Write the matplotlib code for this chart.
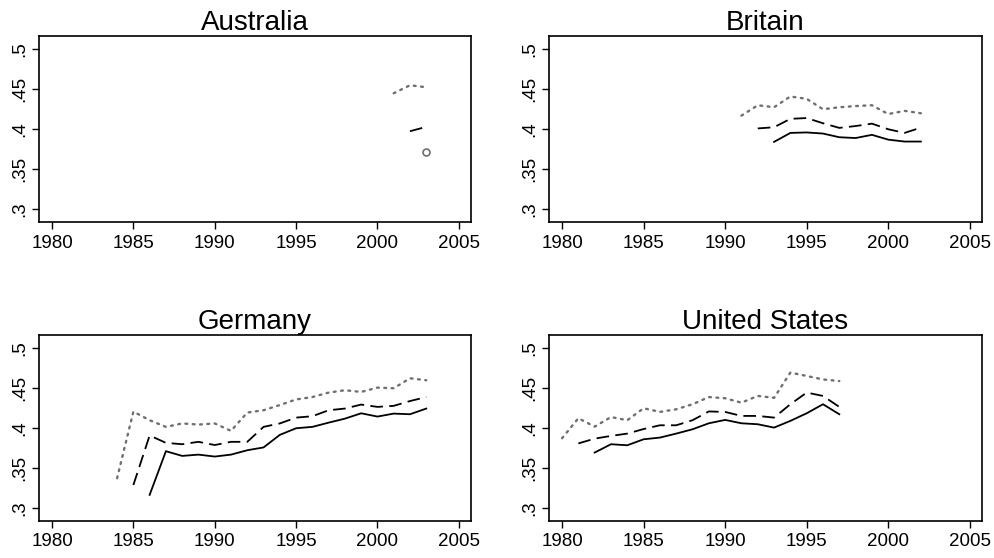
import matplotlib.pyplot as plt

plt.rcParams['font.family'] = ['Liberation Sans', 'DejaVu Sans']

# years and values
aus_dot_x = [2001, 2002, 2003]
aus_dot_y = [0.445, 0.455, 0.4525]
aus_dash_x = [2002, 2003]
aus_dash_y = [0.3975, 0.403]
aus_solid_x = [2003]
aus_solid_y = [0.371]

gbr_dot_x = list(range(1991, 2003))
gbr_dot_y = [0.417, 0.430, 0.4275, 0.441, 0.438, 0.425, 0.4275, 0.429, 0.430, 0.419, 0.423, 0.420]
gbr_dash_x = list(range(1992, 2003))
gbr_dash_y = [0.401, 0.4025, 0.413, 0.414, 0.4075, 0.4017, 0.404, 0.407, 0.400, 0.3954, 0.402]
gbr_solid_x = list(range(1993, 2003))
gbr_solid_y = [0.3842, 0.3954, 0.396, 0.3946, 0.390, 0.389, 0.393, 0.387, 0.3846, 0.3846]

ger_dot_x = list(range(1984, 2004))
ger_dot_y = [0.3375, 0.4208, 0.410, 0.4017, 0.406, 0.4046, 0.406, 0.3967, 0.4196, 0.4225,
             0.429, 0.436, 0.439, 0.4446, 0.4475, 0.4454, 0.4508, 0.450, 0.4625, 0.460]
ger_dash_x = list(range(1985, 2004))
ger_dash_y = [0.329, 0.391, 0.3817, 0.380, 0.383, 0.379, 0.383, 0.383, 0.4017, 0.406,
              0.4133, 0.415, 0.4225, 0.4246, 0.4296, 0.4267, 0.428, 0.434, 0.439]
ger_solid_x = list(range(1986, 2004))
ger_solid_y = [0.3167, 0.3713, 0.3654, 0.367, 0.3646, 0.367, 0.3725, 0.376, 0.3917, 0.400,
               0.4017, 0.407, 0.412, 0.4187, 0.4146, 0.4183, 0.4175, 0.4246]

usa_dot_x = list(range(1980, 1998))
usa_dot_y = [0.3875, 0.4125, 0.402, 0.414, 0.410, 0.425, 0.4204, 0.4237, 0.430, 0.439,
             0.4375, 0.432, 0.4404, 0.438, 0.4696, 0.4654, 0.461, 0.459]
usa_dash_x = list(range(1981, 1998))
usa_dash_y = [0.381, 0.387, 0.3904, 0.3933, 0.399, 0.4037, 0.4037, 0.410, 0.421, 0.4204,
              0.4154, 0.4154, 0.4133, 0.430, 0.4446, 0.4404, 0.4267]
usa_solid_x = list(range(1982, 1998))
usa_solid_y = [0.3696, 0.380, 0.3787, 0.3862, 0.3883, 0.3933, 0.3987, 0.4062, 0.4104, 0.4062,
               0.405, 0.4008, 0.4092, 0.4187, 0.430, 0.4175]

panels = [
    ("Australia", aus_dot_x, aus_dot_y, aus_dash_x, aus_dash_y, aus_solid_x, aus_solid_y),
    ("Britain", gbr_dot_x, gbr_dot_y, gbr_dash_x, gbr_dash_y, gbr_solid_x, gbr_solid_y),
    ("Germany", ger_dot_x, ger_dot_y, ger_dash_x, ger_dash_y, ger_solid_x, ger_solid_y),
    ("United States", usa_dot_x, usa_dot_y, usa_dash_x, usa_dash_y, usa_solid_x, usa_solid_y),
]

W, H = 995.0, 558.0
# axes boxes in pixels: left, top, right, bottom
boxes = [(39, 36, 471, 222), (549, 36, 982, 222),
         (39, 335, 471, 521), (549, 335, 982, 521)]

fig = plt.figure(figsize=(9.95, 5.58), dpi=100)

for (title, dx, dy, ax_, ay, sx, sy), (l, t, r, b) in zip(panels, boxes):
    ax = fig.add_axes([l / W, 1 - b / H, (r - l) / W, (b - t) / H])
    ax.plot(dx, dy, color='#707070', lw=1.7, linestyle=(0, (0.8, 2.3)), dash_capstyle='round')
    ax.plot(ax_, ay, color='black', lw=1.3, linestyle=(0, (7, 3.5)))
    if len(sx) == 1:
        ax.plot(sx, sy, 'o', mfc='none', mec='#707070', ms=5, mew=1.2)
    else:
        ax.plot(sx, sy, color='black', lw=1.3)
    ax.set_xlim(1979.2, 2005.75)
    ax.set_ylim(0.284, 0.5166)
    ax.set_xticks([1980, 1985, 1990, 1995, 2000, 2005])
    ax.set_yticks([0.3, 0.35, 0.4, 0.45, 0.5])
    ax.set_yticklabels(['.3', '.35', '.4', '.45', '.5'], rotation=90, va='center')
    ax.tick_params(labelsize=13.5, length=5, width=1, direction='out', colors='black')
    ax.tick_params(axis='x', pad=4)
    ax.tick_params(axis='y', pad=2.5)
    for s in ax.spines.values():
        s.set_linewidth(1.2)
    ax.set_title(title, fontsize=20, pad=2)

fig.savefig('out.png', dpi=100)
